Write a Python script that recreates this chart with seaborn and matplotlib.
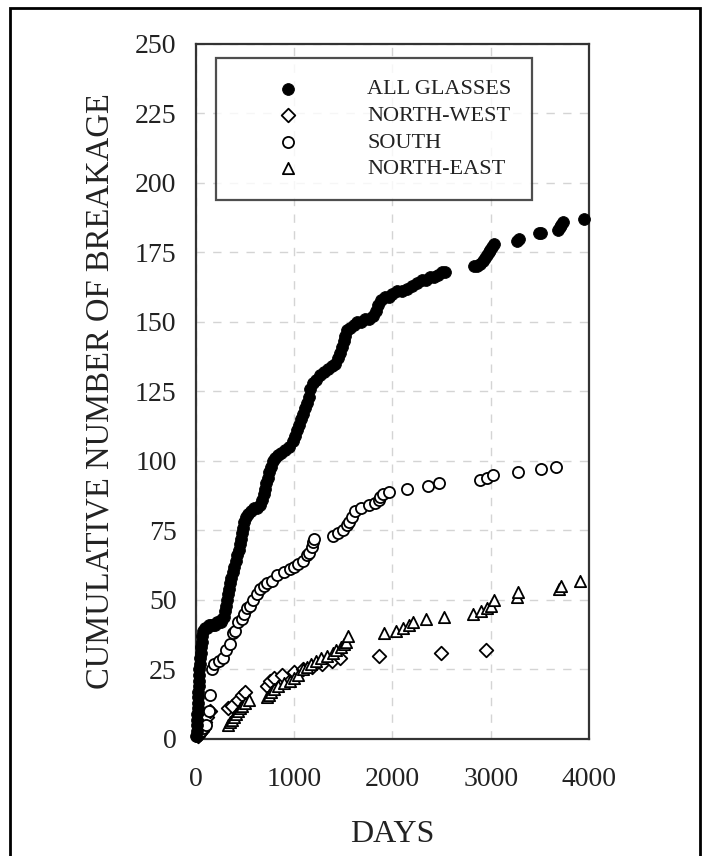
import matplotlib
matplotlib.use("Agg")
import matplotlib.pyplot as plt
import seaborn as sns
import pandas as pd
from matplotlib.patches import Rectangle

# cumulative breakage (day, count)
all_days = [5, 8, 10, 12, 15, 18, 20, 22, 25, 28, 30, 33, 36, 40, 44, 48, 52, 58, 65, 75,
            90, 110, 130, 150, 170, 190, 210, 230, 250, 270,
            290, 300, 310, 320, 330, 340, 350, 360, 375, 390, 405, 420, 435, 445, 455,
            465, 475, 490, 505,
            530, 560, 590, 620, 650, 670,
            690, 705, 715, 730, 745, 760, 780, 800,
            830, 870, 910, 950, 985, 1010,
            1030, 1050, 1070, 1090, 1110, 1130, 1150, 1165,
            1190, 1220, 1260, 1300, 1340, 1380, 1420, 1450,
            1470, 1490, 1505, 1520, 1540, 1570, 1605, 1640, 1680, 1720, 1760, 1800,
            1830, 1855, 1880,
            1920, 1960, 2000, 2050, 2100, 2150, 2200, 2250, 2300, 2340, 2380, 2420,
            2460, 2500, 2530,
            2830, 2860, 2890, 2920, 2945, 2965, 2980, 2995, 3010, 3030,
            3270, 3290, 3490, 3515, 3680, 3705, 3720, 3740, 3950]
all_count = [1, 3, 5, 7, 9, 11, 13, 15, 17, 19, 21, 23, 25, 27, 29, 31, 33, 35, 37, 39,
             40, 40, 41, 41, 41, 41, 42, 42, 42, 43,
             44, 46, 48, 50, 52, 54, 56, 58, 60, 62, 64, 66, 68, 70, 72,
             74, 76, 78, 80,
             81, 82, 83, 83, 84, 86,
             88, 90, 92, 94, 96, 98, 100, 101,
             102, 103, 104, 105, 107, 109,
             111, 113, 115, 117, 119, 121, 123, 126,
             128, 129, 131, 132, 133, 134, 135, 137,
             139, 141, 143, 145, 147, 148, 149, 150, 150, 151, 151, 152,
             154, 156, 158,
             159, 159, 160, 161, 161, 162, 163, 164, 165, 165, 166, 166,
             167, 168, 168,
             170, 170, 171, 172, 173, 174, 175, 176, 177, 178,
             179, 180, 182, 182, 183, 184, 185, 186, 187]

nw_days = [20, 40, 60, 80, 95, 110, 140, 330, 370, 430, 470, 500, 720, 753, 790, 872,
           1000, 1090, 1180, 1280, 1380, 1466, 1868, 2492, 2953]
nw_count = [1, 2, 3, 4, 6, 8, 10, 11, 12, 14, 16, 17, 19, 21, 22, 23,
            24, 25, 26, 27, 28, 29, 30, 31, 32]

south_days = [15, 30, 50, 70, 102, 136, 140, 165, 187, 238, 278, 306, 346, 374,
              400, 425, 465, 490, 516, 550, 584, 620, 652, 690, 720, 770, 822, 900, 957,
              1000, 1040, 1090, 1127, 1150, 1178, 1190, 1200, 1399, 1450, 1501, 1535,
              1560, 1590, 1620, 1680, 1760, 1820, 1860, 1875, 1900, 1960, 2145, 2366,
              2478, 2892, 2960, 3028, 3282, 3510, 3663]
south_count = [1, 2, 3, 4, 5, 10, 16, 25, 27, 28, 29, 32, 34, 38,
               39, 42, 43, 45, 47, 48, 50, 52, 54, 55, 56, 57, 59, 60, 61,
               62, 63, 64, 66, 67, 69, 71, 72, 73, 74, 75, 77,
               78, 80, 82, 83, 84, 85, 86, 87, 88, 89, 90, 91,
               92, 93, 94, 95, 96, 97, 98]

ne_days = [330, 350, 370, 390, 410, 430, 450, 470, 500, 540, 720, 740, 760, 790, 830,
           900, 960, 1000, 1040, 1090, 1130, 1170, 1220, 1270, 1330, 1390, 1430, 1480,
           1510, 1530, 1545, 1910, 2040, 2110, 2170, 2213, 2342, 2525, 2824, 2900, 2960,
           3000, 3035, 3266, 3282, 3700, 3714, 3910]
ne_count = [5, 6, 7, 8, 9, 10, 11, 12, 13, 14, 15, 16, 17, 18, 19,
            20, 21, 22, 23, 25, 26, 27, 28, 29, 30, 31, 32, 33,
            34, 35, 37, 38, 39, 40, 41, 42, 43, 44, 45, 46, 47,
            48, 50, 51, 53, 54, 55, 57]

sns.set_style("white")
plt.rcParams["font.family"] = ["Liberation Serif", "DejaVu Serif"]

fig = plt.figure(figsize=(7.1, 8.56), dpi=100)
ax = fig.add_axes([0.276, 0.1367, 0.5535, 0.812])

df_all = pd.DataFrame({"day": all_days, "n": all_count})
df_nw = pd.DataFrame({"day": nw_days, "n": nw_count})
df_s = pd.DataFrame({"day": south_days, "n": south_count})
df_ne = pd.DataFrame({"day": ne_days, "n": ne_count})

sns.scatterplot(data=df_all, x="day", y="n", ax=ax, marker="o", s=72, color="black",
                edgecolor="black", linewidth=0.6, label="ALL GLASSES", clip_on=False, zorder=5)
sns.scatterplot(data=df_nw, x="day", y="n", ax=ax, marker="D", s=48, facecolor="white",
                edgecolor="black", linewidth=1.3, label="NORTH-WEST", clip_on=False, zorder=4)
sns.scatterplot(data=df_s, x="day", y="n", ax=ax, marker="o", s=64, facecolor="white",
                edgecolor="black", linewidth=1.3, label="SOUTH", clip_on=False, zorder=4)
sns.scatterplot(data=df_ne, x="day", y="n", ax=ax, marker="^", s=66, facecolor="white",
                edgecolor="black", linewidth=1.3, label="NORTH-EAST", clip_on=False, zorder=4)

ax.set_xlim(0, 4000)
ax.set_ylim(0, 250)
ax.set_xticks([0, 1000, 2000, 3000, 4000])
ax.set_yticks(range(0, 251, 25))
ax.grid(True, color="#d4d4d4", linestyle=(0, (6, 6)), linewidth=1.0)
ax.set_axisbelow(True)
for sp in ax.spines.values():
    sp.set_color("#333333")
    sp.set_linewidth(1.6)
ax.tick_params(axis="both", direction="out", length=8, width=1.5, color="#333333",
               labelsize=20, labelcolor="#222222")
ax.tick_params(axis="x", pad=12)
ax.tick_params(axis="y", pad=6)

ax.set_xlabel("DAYS", fontsize=23, color="#222222", labelpad=20)
ax.set_ylabel("CUMULATIVE NUMBER OF BREAKAGE", fontsize=23.5, color="#222222", labelpad=14)

leg = ax.legend(loc="upper left", bbox_to_anchor=(0.051, 0.98), borderaxespad=0,
                fontsize=16, frameon=True, fancybox=False, borderpad=0.95,
                handlelength=4.6, handletextpad=1.25, labelspacing=0.27, markerscale=1.0)
leg.get_frame().set_edgecolor("#222222")
leg.get_frame().set_linewidth(1.6)
for t in leg.get_texts():
    t.set_color("#222222")

# outer frame around the picture
fig.patches.append(Rectangle((10 / 710, -0.05), 690 / 710, 1.05 - 8 / 856,
                             transform=fig.transFigure, fill=False,
                             edgecolor="black", linewidth=2))

fig.savefig("out.png", dpi=100)
